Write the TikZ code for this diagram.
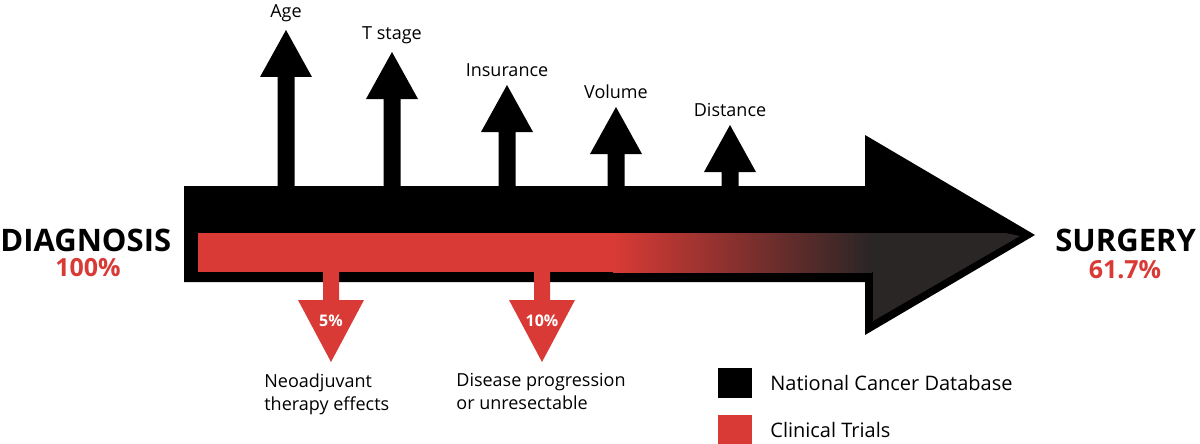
\documentclass[tikz,border=0pt]{standalone}
\usepackage{fontspec}
\setmainfont{Open Sans}
\definecolor{trialred}{RGB}{217,58,54}
\definecolor{headgray}{RGB}{42,38,38}
\tikzset{every picture/.style={line width=0.75pt}}
\tikzset{lbl/.style={font=\fontsize{18}{23}\selectfont, inner sep=0pt},
  big/.style={font=\fontsize{31}{34}\selectfont\bfseries, inner sep=0pt},
  pct/.style={font=\fontsize{25}{28}\selectfont\bfseries, inner sep=0pt, text=trialred}}

\begin{document}
\begin{tikzpicture}[x=1pt,y=1pt,yscale=-1,xscale=1]
\useasboundingbox (0,0) rectangle (1200,444);

%Main arrow
\fill (184,186) -- (865,186) -- (865,135) -- (1035,235) -- (865,335) -- (865,282) -- (184,282) -- cycle ;
%Head inside
\fill [headgray] (862,233) -- (1005,233) -- (1020,236) -- (873,321) -- (873,272) -- (862,272) -- cycle ;
%Red band
\fill [trialred] (198,233) rectangle (614,272) ;
\shade [left color=trialred, right color=headgray] (613,233) rectangle (872,272) ;

%Up arrows
\foreach \x/\t/\name in {286/30/Age, 392/52/T stage, 507/85/Insurance, 616/107/Volume, 730/125/Distance}{
  \fill (\x-8.5,187) -- (\x-8.5,\t+47) -- (\x-26,\t+47) -- (\x,\t) -- (\x+26,\t+47) -- (\x+8.5,\t+47) -- (\x+8.5,187) -- cycle ;
  \node [lbl, anchor=south] (up-\x) at (\x,\t-8) {\name};
}

%Down arrows
\foreach \x/\p in {331/5\%, 542/10\%}{
  \fill [trialred] (\x-8,271) -- (\x-8,300) -- (\x-33,300) -- (\x,362) -- (\x+33,300) -- (\x+8,300) -- (\x+8,271) -- cycle ;
  \node [font=\fontsize{16}{18}\selectfont\bfseries, text=white, inner sep=0pt] (dn-\x) at (\x,321) {\p};
}

% Text Node
\node [big, anchor=west] (diag) at (0,240) {DIAGNOSIS};
\node [pct] (diagp) at (88,268) {100\%};
\node [big, anchor=west] (surg) at (1055,240) {SURGERY};
\node [pct] (surgp) at (1125,270) {61.7\%};

\node [lbl, anchor=north west, align=left] (neo) at (264,373) {Neoadjuvant\\therapy effects};
\node [lbl, anchor=north west, align=left] (prog) at (456,373) {Disease progression\\or unresectable};

%Legend
\fill (718,368) rectangle (752,398) ;
\node [lbl, anchor=west, font=\fontsize{20}{24}\selectfont] (ncdb) at (770,383) {National Cancer Database};
\fill [trialred] (718,415) rectangle (752,444) ;
\node [lbl, anchor=west, font=\fontsize{20}{24}\selectfont] (ct) at (770,430) {Clinical Trials};

\end{tikzpicture}
\end{document}
